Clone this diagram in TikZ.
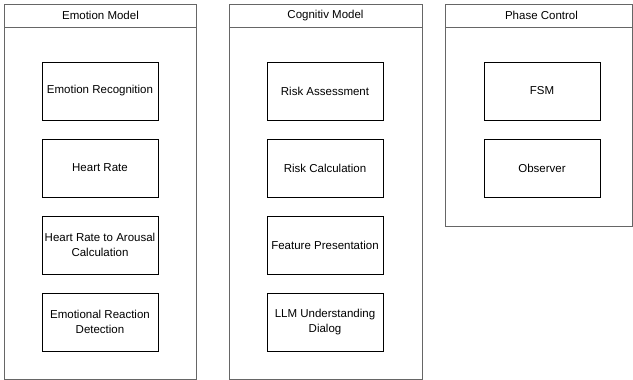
\documentclass[tikz,border=0pt]{standalone}
\usepackage{fontspec}
\setmainfont{Liberation Sans}
\definecolor{framegray}{HTML}{666666}
\tikzset{
    modbox/.style={draw=black,line width=0.9pt,minimum width=116pt,minimum height=58pt,
        align=center,inner sep=1pt,font=\fontsize{11.5}{14.5}\selectfont},
    frame/.style={draw=framegray,line width=0.9pt},
    title/.style={font=\fontsize{11.5}{14}\selectfont,inner sep=0pt}
}
\begin{document}
\begin{tikzpicture}[x=1pt,y=-1pt]
\useasboundingbox (0,0) rectangle (633,380);

% containers
\draw[frame] (4.5,4.5) rectangle (196.5,379);
\draw[frame] (4.5,27) -- (196.5,27);
\node[title] (emotitle) at (100.5,15.5) {Emotion Model};

\draw[frame] (229.5,4.5) rectangle (422,379);
\draw[frame] (229.5,27) -- (422,27);
\node[title] (cogtitle) at (325.5,15.5) {Cognitiv Model};

\draw[frame] (445.5,4.5) rectangle (632.5,226.5);
\draw[frame] (445.5,27) -- (632.5,27);
\node[title] (phasetitle) at (541.5,15.5) {Phase Control};

% emotion model
\node[modbox] (emorec) at (100,91) {Emotion Recognition};
\node[modbox] (heart) at (100,168) {Heart Rate};
\node[modbox] (arousal) at (100,245) {Heart Rate to Arousal\\Calculation};
\node[modbox] (reaction) at (100,322) {Emotional Reaction\\Detection};

% cognitiv model
\node[modbox] (riskass) at (325,91) {Risk Assessment};
\node[modbox] (riskcalc) at (325,168) {Risk Calculation};
\node[modbox] (feature) at (325,245) {Feature Presentation};
\node[modbox] (llm) at (325,322) {LLM Understanding\\Dialog};

% phase control
\node[modbox] (fsm) at (542,91) {FSM};
\node[modbox] (observer) at (542,168) {Observer};

\end{tikzpicture}
\end{document}
